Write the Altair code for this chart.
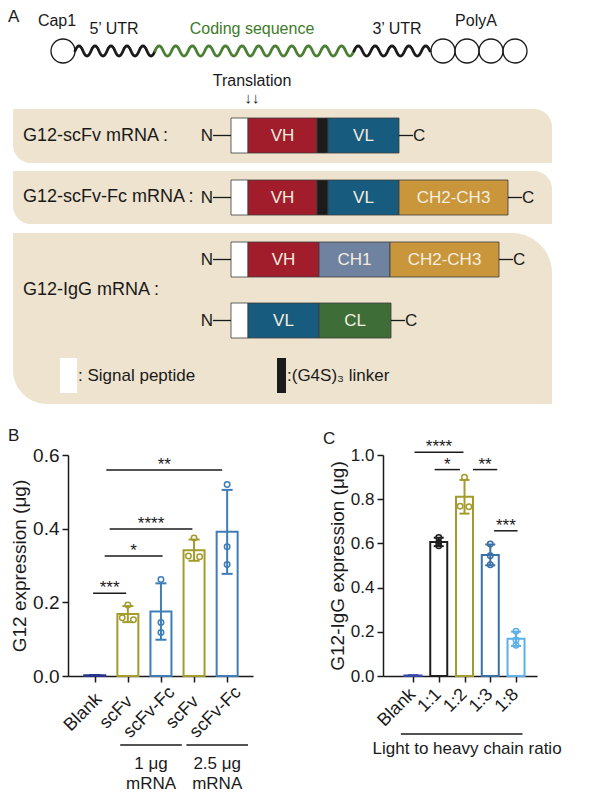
import json
import altair as alt
import pandas as pd

FONT = "Liberation Sans"
INK = "#1a1a1a"
BEIGE = "#EDE3CE"

# ======================= Panel A : schematic =======================
# layout units of the schematic = figure pixels
mrna_text = ["Cap1", "5\u2019 UTR", "Coding sequence", "3\u2019 UTR", "PolyA"]
mrna_text_x = [57, 114, 252, 397, 476]
mrna_text_y = [20, 28, 28, 28, 20]
mrna_text_color = [INK, INK, "#3E7B2A", INK, INK]

wave_start = [75, 155, 354]
wave_end = [155, 354, 430]
wave_color = [INK, "#4B7F34", INK]
wave_y = 50

cap_x = [63]
polya_x = [443, 467, 491, 515]

box_left, box_right = 13, 552
box_top = [108, 170, 232]
box_bottom = [162, 223, 403]

construct_labels = ["G12-scFv mRNA :", "G12-scFv-Fc mRNA\u2009:", "G12-IgG mRNA :"]
construct_label_y = [135, 196, 289]
construct_label_x = 23

chain_row_top = [117, 179, 241, 302]
chain_row_bottom = [152, 214, 276, 337]

seg_row = [0, 0, 0, 0, 1, 1, 1, 1, 1, 2, 2, 2, 2, 3, 3, 3]
seg_name = ["SP", "VH", "linker", "VL",
            "SP", "VH", "linker", "VL", "CH2-CH3",
            "SP", "VH", "CH1", "CH2-CH3",
            "SP", "VL", "CL"]
seg_start = [231, 248, 317, 328, 231, 248, 317, 328, 399, 231, 248, 319, 390, 231, 248, 319]
seg_end = [248, 317, 328, 399, 248, 317, 328, 399, 508, 248, 319, 390, 499, 248, 319, 391]

domain_names = ["SP", "VH", "linker", "VL", "CH1", "CH2-CH3", "CL"]
domain_colors = ["#FFFFFF", "#A11D2C", "#1B1B1B", "#175B7E", "#6F82A0", "#C9963C", "#3E6D37"]
labelled_domains = ["VH", "VL", "CH1", "CH2-CH3", "CL"]

legend_name = ["SP", "linker"]
legend_x0 = [60, 277]
legend_x1 = [77, 286]
legend_y0 = [357, 357]
legend_y1 = [392, 392]
legend_label = [":  Signal peptide", ":(G4S)\u2083 linker"]

xA = alt.Scale(domain=[8, 592], nice=False, zero=False)
yA = alt.Scale(domain=[8, 420], nice=False, zero=False, reverse=True)


def XA(f):
    return alt.X(f, type="quantitative", scale=xA, axis=None)


def YA(f):
    return alt.Y(f, type="quantitative", scale=yA, axis=None)


def wave_path(length, half=8.3, amp=5.0):
    n = max(1, round(length / half))
    h = length / n
    p = "M0,0q%.2f,%.2f %.2f,0" % (h / 2, -2 * amp, h)
    p += ("t%.2f,0" % h) * (n - 1)
    return p


box_df = pd.DataFrame({"x0": [box_left] * 3, "x1": [box_right] * 3,
                       "y0": box_top, "y1": box_bottom})
box12 = alt.Chart(box_df.iloc[:2]).mark_rect(
    fill=BEIGE, cornerRadiusTopRight=18, cornerRadiusBottomLeft=18
).encode(x=XA("x0"), x2="x1", y=YA("y0"), y2="y1")
box3 = alt.Chart(box_df.iloc[2:]).mark_rect(
    fill=BEIGE, cornerRadiusTopRight=40, cornerRadiusBottomLeft=34
).encode(x=XA("x0"), x2="x1", y=YA("y0"), y2="y1")

wave_df = pd.DataFrame({
    "x": wave_start, "y": [wave_y] * 3, "col": wave_color,
    "path": [wave_path(e - s) for s, e in zip(wave_start, wave_end)],
})
waves = alt.Chart(wave_df).mark_point(
    filled=False, size=4, strokeWidth=2.8, opacity=1, strokeCap="round"
).encode(x=XA("x"), y=YA("y"),
         shape=alt.Shape("path:N", scale=None),
         color=alt.Color("col:N", scale=None))

circ_df = pd.DataFrame({"x": cap_x + polya_x, "y": [wave_y] * (len(cap_x) + len(polya_x))})
circles = alt.Chart(circ_df).mark_point(
    shape="circle", size=576, filled=False, color=INK, strokeWidth=1.3, opacity=1
).encode(x=XA("x"), y=YA("y"))

mtext_df = pd.DataFrame({"x": mrna_text_x, "y": mrna_text_y, "t": mrna_text, "col": mrna_text_color})
mtext = alt.Chart(mtext_df).mark_text(fontSize=16).encode(
    x=XA("x"), y=YA("y"), text="t:N", color=alt.Color("col:N", scale=None))

trans_df = pd.DataFrame({"x": [252, 252], "y": [80, 97], "t": ["Translation", "\u2193\u2193"], "fs": [16, 15]})
trans = alt.Chart(trans_df).mark_text(color=INK).encode(
    x=XA("x"), y=YA("y"), text="t:N", size=alt.Size("fs:Q", scale=None))

clab_df = pd.DataFrame({"x": [construct_label_x] * 3, "y": construct_label_y, "t": construct_labels})
clabels = alt.Chart(clab_df).mark_text(align="left", fontSize=18, color=INK).encode(
    x=XA("x"), y=YA("y"), text="t:N")

seg_df = pd.DataFrame({"row": seg_row, "name": seg_name, "x0": seg_start, "x1": seg_end})
seg_df["y0"] = [chain_row_top[r] for r in seg_row]
seg_df["y1"] = [chain_row_bottom[r] for r in seg_row]
seg_df["xm"] = (seg_df.x0 + seg_df.x1) / 2
seg_df["ym"] = (seg_df.y0 + seg_df.y1) / 2
segs = alt.Chart(seg_df).mark_rect(stroke="#3c3c3c", strokeWidth=0.8).encode(
    x=XA("x0"), x2="x1", y=YA("y0"), y2="y1",
    fill=alt.Fill("name:N", scale=alt.Scale(domain=domain_names, range=domain_colors), legend=None))
seg_text = alt.Chart(seg_df[seg_df.name.isin(labelled_domains)]).mark_text(
    fontSize=17, color="#F5EEDF").encode(x=XA("xm"), y=YA("ym"), text="name:N")

row_df = seg_df.groupby("row").agg(start=("x0", "min"), end=("x1", "max"), ym=("ym", "first")).reset_index()
row_df["n0"] = row_df["start"] - 18
row_df["c1"] = row_df["end"] + 14
n_rule = alt.Chart(row_df).mark_rule(color=INK, strokeWidth=1.3).encode(
    x=XA("n0"), x2="start", y=YA("ym"))
c_rule = alt.Chart(row_df).mark_rule(color=INK, strokeWidth=1.3).encode(
    x=XA("end"), x2="c1", y=YA("ym"))
n_text = alt.Chart(row_df).mark_text(align="right", fontSize=17, color=INK).encode(
    x=XA("n0"), y=YA("ym"), text=alt.value("N"))
c_text = alt.Chart(row_df).mark_text(align="left", fontSize=17, color=INK).encode(
    x=XA("c1"), y=YA("ym"), text=alt.value("C"))

leg_df = pd.DataFrame({"name": legend_name, "x0": legend_x0, "x1": legend_x1,
                       "y0": legend_y0, "y1": legend_y1, "t": legend_label})
leg_df["ym"] = (leg_df.y0 + leg_df.y1) / 2
leg_rect = alt.Chart(leg_df).mark_rect().encode(
    x=XA("x0"), x2="x1", y=YA("y0"), y2="y1",
    fill=alt.Fill("name:N", scale=alt.Scale(domain=domain_names, range=domain_colors), legend=None))
leg_text = alt.Chart(leg_df).mark_text(align="left", fontSize=17, color=INK, dx=1).encode(
    x=XA("x1"), y=YA("ym"), text="t:N")

letterA = alt.Chart(pd.DataFrame({"x": [8], "y": [8], "t": ["A"]})).mark_text(
    align="left", baseline="top", fontSize=17, color=INK).encode(x=XA("x"), y=YA("y"), text="t:N")

panelA = alt.layer(box12, box3, waves, circles, mtext, trans, clabels, segs, seg_text,
                   n_rule, c_rule, n_text, c_text, leg_rect, leg_text, letterA
                   ).properties(width=584, height=412)

# ======================= Panels B and C : bar charts =======================
b_labels = ["Blank", "scFv", "scFv-Fc", "scFv", "scFv-Fc"]
b_colors = ["#27348B", "#A39C2D", "#3F7DB8", "#A39C2D", "#3F7DB8"]
b_values = [[0.002, 0.002, 0.002],
            [0.193, 0.158, 0.153],
            [0.262, 0.145, 0.118],
            [0.375, 0.326, 0.324],
            [0.520, 0.351, 0.303]]
b_sig_from = [-0.05, 0.30, 0.45, 0.35]
b_sig_to = [0.95, 2.05, 2.95, 3.85]
b_sig_y = [0.225, 0.326, 0.399, 0.559]
b_sig_stars = ["***", "*", "****", "**"]
b_group_text = ["1 \u03bcg\nmRNA", "2.5 \u03bcg\nmRNA"]
b_group_first = [1, 3]
b_group_last = [2, 4]

c_labels = ["Blank", "1:1", "1:2", "1:3", "1:8"]
c_colors = ["#3546A6", "#1E1E1E", "#A39C2D", "#3A70A8", "#5CB0EA"]
c_values = [[0.002, 0.002, 0.002],
            [0.627, 0.604, 0.589],
            [0.899, 0.768, 0.766],
            [0.597, 0.544, 0.503],
            [0.203, 0.163, 0.139]]
c_sig_from = [0.06, 0.84, 2.33, 3.15]
c_sig_to = [1.96, 1.82, 3.27, 4.06]
c_sig_y = [1.012, 0.934, 0.934, 0.657]
c_sig_stars = ["****", "*", "**", "***"]
c_group_text = ["Light to heavy chain ratio"]


def dodge(vals, thr):
    offs = []
    for i, v in enumerate(vals):
        near = [j for j, w in enumerate(vals) if j != i and abs(w - v) < thr]
        if not near:
            offs.append(0.0)
        else:
            offs.append(-0.17 if i < near[0] else 0.17)
    return offs


def bar_panel(labels, colors, values, ymax, ytitle, xdom, barw, capw,
              sig_from, sig_to, sig_y, sig_txt, letter, letter_xy, thr,
              tick_fs, title_pad, xlab):
    rows = []
    for i, (vals, col) in enumerate(zip(values, colors)):
        for v, o in zip(vals, dodge(vals, thr)):
            rows.append({"idx": i, "value": v, "col": col, "xj": i + o})
    pts = pd.DataFrame(rows)
    xs = alt.Scale(domain=xdom, nice=False, zero=False)
    ys = alt.Scale(domain=[0, ymax], nice=False, zero=True)
    yvals = [round(k * 0.2, 1) for k in range(int(round(ymax / 0.2)) + 1)]
    xaxis = alt.Axis(title=None, values=list(range(len(labels))),
                     labelExpr="%s[datum.value]" % json.dumps(labels),
                     labelAngle=-45, labelFontSize=18, labelColor=INK,
                     labelOverlap=False, labelBound=False, labelFlush=False,
                     domainColor=INK, domainWidth=1.5, tickColor=INK, tickWidth=1.5,
                     tickSize=6, grid=False, **xlab)
    yaxis = alt.Axis(title=ytitle, values=yvals, format=".1f", grid=False,
                     labelFontSize=tick_fs, labelColor=INK, labelPadding=3,
                     domainColor=INK, domainWidth=1.5, tickColor=INK, tickWidth=1.5,
                     tickSize=6, titleFontSize=19, titleFontWeight="normal",
                     titleColor=INK, titlePadding=title_pad)

    def X(f):
        return alt.X(f, type="quantitative", scale=xs, axis=xaxis)

    def Y(f):
        return alt.Y(f, type="quantitative", scale=ys, axis=yaxis)

    base = alt.Chart(pts)
    bars = base.mark_bar(fill="white", strokeWidth=2, width=barw).encode(
        x=X("idx"), y=alt.Y("mean(value):Q", scale=ys, axis=yaxis),
        stroke=alt.Stroke("col:N", scale=None))
    stats = base.transform_aggregate(
        m="mean(value)", s="stdev(value)", groupby=["idx", "col"]
    ).transform_calculate(lo="datum.m - datum.s", hi="datum.m + datum.s")
    err = stats.mark_rule(strokeWidth=2).encode(
        x=X("idx"), y=Y("lo"), y2="hi:Q",
        color=alt.Color("col:N", scale=None))
    caps = stats.transform_fold(["lo", "hi"], as_=["end", "yy"]).mark_tick(
        orient="horizontal", size=capw, thickness=2, opacity=1).encode(
        x=X("idx"), y=Y("yy"), color=alt.Color("col:N", scale=None))
    dots = base.transform_filter("datum.idx > 0").mark_point(
        filled=False, size=30, strokeWidth=1.5, opacity=1).encode(
        x=X("xj"), y=Y("value"), color=alt.Color("col:N", scale=None))
    sig = pd.DataFrame({"a": sig_from, "b": sig_to, "y": sig_y, "t": sig_txt})
    sig["m"] = (sig.a + sig.b) / 2
    sig_rule = alt.Chart(sig).mark_rule(color=INK, strokeWidth=1.5).encode(
        x=X("a"), x2="b:Q", y=Y("y"))
    sig_text = alt.Chart(sig).mark_text(fontSize=17, baseline="alphabetic", dy=0, color=INK).encode(
        x=X("m"), y=Y("y"), text="t:N")
    let = alt.Chart(pd.DataFrame({"t": [letter]})).mark_text(
        align="left", baseline="top", fontSize=17, color=INK).encode(
        x=alt.value(letter_xy[0]), y=alt.value(letter_xy[1]), text="t:N")
    return [bars, err, caps, dots, sig_rule, sig_text, let], X


HB = 221
layersB, XB = bar_panel(b_labels, b_colors, b_values, 0.6, "G12 expression (\u03bcg)",
                        [-0.657, 4.63], 21, 11,
                        b_sig_from, b_sig_to, b_sig_y, b_sig_stars, "B", (-60, -27), 0.02,
                        19, 3,
                        dict(labelAlign="center", labelBaseline="middle",
                             labelPadding=30, labelOffset=-12))
grpB = pd.DataFrame({"a": [f - 0.23 for f in b_group_first],
                     "b": [l + 0.63 for l in b_group_last], "t": b_group_text})
grpB["m"] = (grpB.a + grpB.b) / 2
grpB_rule = alt.Chart(grpB).mark_rule(color=INK, strokeWidth=1.5).encode(
    x=XB("a"), x2="b:Q", y=alt.value(290))
grpB_text = alt.Chart(grpB).mark_text(fontSize=17, baseline="top", lineBreak="\n",
                                      lineHeight=20, color=INK).encode(
    x=XB("m"), y=alt.value(301), text="t:N")
panelB = alt.layer(*layersB, grpB_rule, grpB_text).properties(width=185, height=HB)

layersC, XC = bar_panel(c_labels, c_colors, c_values, 1.0, "G12-IgG expression (\u03bcg)",
                        [-0.97, 4.62], 17, 10,
                        c_sig_from, c_sig_to, c_sig_y, c_sig_stars, "C", (-60, -24), 0.01,
                        17, 3,
                        dict(labelPadding=3, labelOffset=-7))
grpC = pd.DataFrame({"a": [-0.47], "b": [4.25], "tx": [2.1], "t": c_group_text})
grpC_rule = alt.Chart(grpC).mark_rule(color=INK, strokeWidth=1.5).encode(
    x=XC("a"), x2="b:Q", y=alt.value(279))
grpC_text = alt.Chart(grpC).mark_text(fontSize=17, color=INK).encode(
    x=XC("tx"), y=alt.value(294), text="t:N")
panelC = alt.layer(*layersC, grpC_rule, grpC_text).properties(width=154, height=HB)


def spacer(w):
    return alt.Chart(pd.DataFrame({"v": [0]})).mark_point(opacity=0).encode(
        x=alt.X("v:Q", axis=None), y=alt.Y("v:Q", axis=None)).properties(width=w, height=HB)


bottom = alt.hconcat(spacer(60), panelB, spacer(130), panelC, spacing=0, bounds="flush")
chart = alt.vconcat(panelA, bottom, spacing=34, bounds="flush").properties(
    padding=0).configure(font=FONT).configure_view(stroke=None)

chart.save("out.html", embed_options={"renderer": "svg", "actions": False})
